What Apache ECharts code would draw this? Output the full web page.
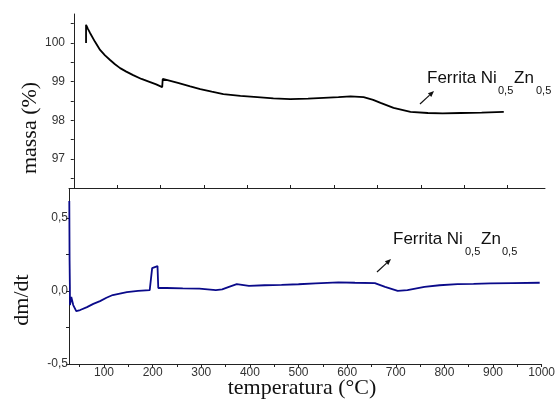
<!DOCTYPE html>
<html>
<head>
<meta charset="utf-8">
<script src="https://cdn.jsdelivr.net/npm/echarts@6/dist/echarts.min.js"></script>
<style>
  html, body { margin: 0; padding: 0; background: #fff; }
  #container { width: 558px; height: 412px; }
</style>
</head>
<body>
<div id="container"></div>
<script>
// massa (%) vs temperatura (top panel)
var massaTemp  = [28.3, 28.3, 32.9, 37.5, 49, 60.6, 72, 83.7, 95, 106.8, 121, 136.8, 156, 176, 190, 203.8,
                  205, 240, 268.4, 291.5, 318, 344.7, 384, 423, 460, 499, 540, 575.6, 610, 638, 668,
                  690, 707, 737, 776, 816, 850, 892, 940, 991];
var massaValue = [100.0, 100.47, 100.36, 100.26, 100.03, 99.82, 99.68, 99.56, 99.45, 99.35, 99.26, 99.17, 99.07, 98.99, 98.93, 98.86,
                  99.07, 98.97, 98.88, 98.81, 98.74, 98.68, 98.63, 98.60, 98.57, 98.55, 98.56, 98.58, 98.60, 98.62, 98.60,
                  98.53, 98.45, 98.32, 98.22, 98.19, 98.18, 98.19, 98.20, 98.22];

// dm/dt vs temperatura (bottom panel)
var dmdtTemp  = [28.6, 29.2, 29.8, 30, 32.7, 36.7, 42.9, 51, 65, 78, 91.8, 105, 118, 147, 170, 194, 198,
                 199, 202, 210, 211.6, 228.6, 262, 296, 330, 343, 357, 373, 398, 430, 465, 500, 535,
                 582, 616, 657, 678, 704, 724, 759, 790, 827, 860, 894, 940, 996];
var dmdtValue = [0.617, 0.21, 0.04, -0.096, -0.04, -0.096, -0.137, -0.13, -0.11, -0.088, -0.069, -0.046, -0.027, -0.007, 0.002, 0.007, 0.007,
                 0.158, 0.171, 0.171, 0.021, 0.021, 0.018, 0.017, 0.007, 0.012, 0.029, 0.048, 0.036, 0.04, 0.043, 0.047, 0.053,
                 0.06, 0.057, 0.055, 0.029, 0.002, 0.007, 0.029, 0.04, 0.048, 0.05, 0.053, 0.055, 0.057];

var tempLabels = [100, 200, 300, 400, 500, 600, 700, 800, 900, 1000];
var tempTicks = [50, 100, 150, 200, 250, 300, 350, 400, 450, 500, 550, 600, 650, 700, 750, 800, 850, 900, 950, 1000];
var massaLabels = [97, 98, 99, 100];
var massaTicks = [96.5, 97, 97.5, 98, 98.5, 99, 99.5, 100, 100.5];
var dmdtLabels = [-0.5, 0, 0.5];
var dmdtTicks = [-0.5, -0.25, 0, 0.25, 0.5];

var zip = function(xs, ys) {
    return xs.map(function(x, i) { return [x, ys[i]]; });
};

var axisColor = '#222';
var labelStyle = { color: '#333', fontFamily: 'Liberation Sans', fontSize: 12 };
var comma = function(v) { return v.toFixed(1).replace('.', ','); };
var plain = function(v) { return String(v); };

var arrow = function(x1, y1, x2, y2) {
    var dx = x2 - x1, dy = y2 - y1, len = Math.sqrt(dx * dx + dy * dy);
    var ux = dx / len, uy = dy / len, bx = x2 - 6 * ux, by = y2 - 6 * uy;
    return [{
        type: 'line', shape: { x1: x1, y1: y1, x2: bx, y2: by },
        style: { stroke: '#111', lineWidth: 1.2 }
    }, {
        type: 'polygon',
        shape: { points: [[x2, y2], [bx - 2.5 * uy, by + 2.5 * ux], [bx + 2.5 * uy, by - 2.5 * ux]] },
        style: { fill: '#111' }
    }];
};

var txt = function(x, y, s, size, family, rot) {
    return {
        type: 'text', x: x, y: y, rotation: rot || 0,
        style: {
            text: s, fill: '#111', fontSize: size, fontFamily: family,
            align: rot ? 'center' : 'left', verticalAlign: 'middle'
        }
    };
};

var myChart = echarts.init(document.getElementById('container'));

var option = {
    backgroundColor: '#fff',
    animation: false,
    grid: [
        { left: 69, top: 14, width: 476, height: 174 },
        { left: 69, top: 189, width: 476, height: 175 }
    ],
    xAxis: [{
        type: 'value', gridIndex: 0, min: -11, max: 1086,
        axisLine: { onZero: false, lineStyle: { color: axisColor, width: 1 } },
        axisTick: { inside: true, length: 3, customValues: tempLabels, lineStyle: { color: axisColor } },
        axisLabel: { show: false },
        splitLine: { show: false }
    }, {
        type: 'value', gridIndex: 1, min: 28, max: 1000,
        axisLine: { onZero: false, lineStyle: { color: axisColor, width: 1 } },
        axisTick: { length: 3, customValues: tempTicks, lineStyle: { color: axisColor } },
        axisLabel: Object.assign({ margin: 3, customValues: tempLabels, formatter: plain }, labelStyle),
        splitLine: { show: false }
    }],
    yAxis: [{
        type: 'value', gridIndex: 0, min: 96.25, max: 100.75,
        axisLine: { show: true, lineStyle: { color: axisColor, width: 1 } },
        axisTick: { length: 3, customValues: massaTicks, lineStyle: { color: axisColor } },
        axisLabel: Object.assign({ margin: 4, customValues: massaLabels, formatter: plain }, labelStyle),
        splitLine: { show: false }
    }, {
        type: 'value', gridIndex: 1, min: -0.5, max: 0.7,
        axisLine: { show: true, lineStyle: { color: axisColor, width: 1 } },
        axisTick: { length: 3, customValues: dmdtTicks, lineStyle: { color: axisColor } },
        axisLabel: Object.assign({ margin: 1, customValues: dmdtLabels, formatter: comma }, labelStyle),
        splitLine: { show: false }
    }],
    series: [{
        name: 'massa', type: 'line', xAxisIndex: 0, yAxisIndex: 0,
        data: zip(massaTemp, massaValue),
        showSymbol: false, smooth: false,
        lineStyle: { color: '#000', width: 1.8 }
    }, {
        name: 'dm/dt', type: 'line', xAxisIndex: 1, yAxisIndex: 1,
        data: zip(dmdtTemp, dmdtValue),
        showSymbol: false, smooth: false,
        lineStyle: { color: '#0a0a8a', width: 1.8 }
    }],
    graphic: [].concat(
        [
            txt(30, 128, 'massa (%)', 22, 'Liberation Serif', Math.PI / 2),
            txt(22, 300, 'dm/dt', 22, 'Liberation Serif', Math.PI / 2),
            { type: 'text', x: 302, y: 388, style: { text: 'temperatura (°C)', fill: '#111', fontSize: 22, fontFamily: 'Liberation Serif', align: 'center', verticalAlign: 'middle' } },
            txt(427, 78, 'Ferrita Ni', 17, 'Liberation Sans'),
            txt(498, 91, '0,5', 11, 'Liberation Sans'),
            txt(514, 78, 'Zn', 17, 'Liberation Sans'),
            txt(536, 91, '0,5', 11, 'Liberation Sans'),
            txt(393, 239, 'Ferrita Ni', 17, 'Liberation Sans'),
            txt(465, 252, '0,5', 11, 'Liberation Sans'),
            txt(481, 239, 'Zn', 17, 'Liberation Sans'),
            txt(502, 252, '0,5', 11, 'Liberation Sans')
        ],
        arrow(420, 104, 434, 91),
        arrow(377, 272, 391, 259)
    )
};

myChart.setOption(option);
</script>
</body>
</html>
